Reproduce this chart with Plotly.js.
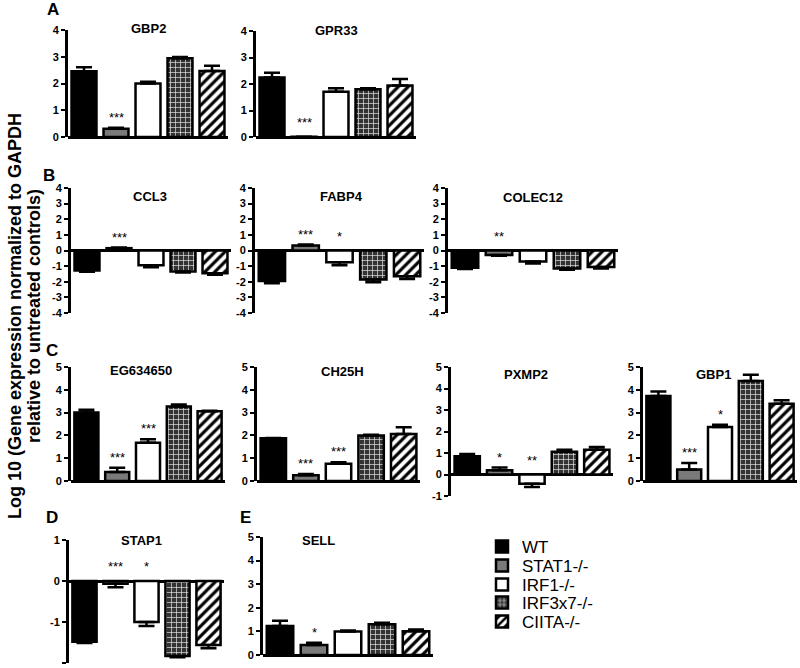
<!DOCTYPE html>
<html><head><meta charset="utf-8">
<script src="https://cdn.plot.ly/plotly-3.0.1.min.js"></script>
<style>body{margin:0;background:#fff}#chart{width:800px;height:668px}</style>
</head><body><div id="chart"></div>
<script>
const genotypes = ['WT','STAT1-/-','IRF1-/-','IRF3x7-/-','CIITA-/-'];

const GBP2 = [2.46, 0.31, 2.0, 2.94, 2.47];
const GBP2_err = [0.15, 0.04, 0.07, 0.05, 0.19];
const GBP2_sig = ['', '***', '', '', ''];

const GPR33 = [2.25, 0.01, 1.71, 1.8, 1.94];
const GPR33_err = [0.17, 0, 0.13, 0.04, 0.25];
const GPR33_sig = ['', '***', '', '', ''];

const CCL3 = [-1.28, 0.15, -0.95, -1.35, -1.45];
const CCL3_err = [0.08, 0.04, 0.12, 0.05, 0.1];
const CCL3_sig = ['', '***', '', '', ''];

const FABP4 = [-1.95, 0.32, -0.75, -1.85, -1.65];
const FABP4_err = [0.15, 0.06, 0.2, 0.18, 0.17];
const FABP4_sig = ['', '***', '*', '', ''];

const COLEC12 = [-1.1, -0.28, -0.7, -1.15, -1.05];
const COLEC12_err = [0.08, 0.06, 0.13, 0.08, 0.1];
const COLEC12_sig = ['', '**', '', '', ''];

const EG634650 = [3.0, 0.39, 1.68, 3.27, 3.06];
const EG634650_err = [0.13, 0.19, 0.15, 0.09, 0.02];
const EG634650_sig = ['', '***', '***', '', ''];

const CH25H = [1.87, 0.25, 0.76, 2.0, 2.06];
const CH25H_err = [0.02, 0.06, 0.06, 0.03, 0.3];
const CH25H_sig = ['', '***', '***', '', ''];

const PXMP2 = [0.85, 0.2, -0.43, 1.06, 1.15];
const PXMP2_err = [0.1, 0.12, 0.15, 0.09, 0.13];
const PXMP2_sig = ['', '*', '**', '', ''];

const GBP1 = [3.73, 0.5, 2.37, 4.39, 3.39];
const GBP1_err = [0.2, 0.29, 0.1, 0.27, 0.15];
const GBP1_sig = ['', '***', '*', '', ''];

const STAP1 = [-1.48, -0.07, -1.0, -1.83, -1.56];
const STAP1_err = [0.03, 0.08, 0.1, 0.03, 0.08];
const STAP1_sig = ['', '***', '*', '', ''];

const SELL = [1.23, 0.42, 1.0, 1.3, 1.01];
const SELL_err = [0.22, 0.1, 0.04, 0.07, 0.07];
const SELL_sig = ['', '*', '', '', ''];

const ticksA = [0, 1, 2, 3, 4];
const ticksB = [-4, -3, -2, -1, 0, 1, 2, 3, 4];
const ticksC = [0, 1, 2, 3, 4, 5];
const ticksPXMP2 = [-1, 0, 1, 2, 3, 4, 5];
const ticksSTAP1 = [-2, -1, 0, 1];

const W = 800, H = 668;
const FONT = 'Liberation Sans, Arial, Helvetica, sans-serif';

// layout of panels in pixels
const panels = [
  {gene:'GBP2', v:GBP2, e:GBP2_err, s:GBP2_sig, ticks:ticksA, px:[68,228], py:[30,137], t:[148,28]},
  {gene:'GPR33', v:GPR33, e:GPR33_err, s:GPR33_sig, ticks:ticksA, px:[256,416], py:[31,137], t:[336,31]},
  {gene:'CCL3', v:CCL3, e:CCL3_err, s:CCL3_sig, ticks:ticksB, px:[71,231], py:[188,313], t:[150,196]},
  {gene:'FABP4', v:FABP4, e:FABP4_err, s:FABP4_sig, ticks:ticksB, px:[255,424], py:[188,313], t:[341,197]},
  {gene:'COLEC12', v:COLEC12, e:COLEC12_err, s:COLEC12_sig, ticks:ticksB, px:[448,618], py:[188,313], t:[533,198]},
  {gene:'EG634650', v:EG634650, e:EG634650_err, s:EG634650_sig, ticks:ticksC, px:[71,225], py:[367,481], t:[141,370]},
  {gene:'CH25H', v:CH25H, e:CH25H_err, s:CH25H_sig, ticks:ticksC, px:[257,420], py:[367,481], t:[342,371]},
  {gene:'PXMP2', v:PXMP2, e:PXMP2_err, s:PXMP2_sig, ticks:ticksPXMP2, px:[451,613], py:[367,496], t:[526,374]},
  {gene:'GBP1', v:GBP1, e:GBP1_err, s:GBP1_sig, ticks:ticksC, px:[643,797], py:[367,481], t:[713,374]},
  {gene:'STAP1', v:STAP1, e:STAP1_err, s:STAP1_sig, ticks:ticksSTAP1, px:[69,224], py:[540,663], t:[141,540]},
  {gene:'SELL', v:SELL, e:SELL_err, s:SELL_sig, ticks:ticksC, px:[263,433], py:[537,655], t:[318,540]}
];

const styles = [
  {color:'#000000'},
  {color:'#7a7a7a'},
  {color:'#ffffff'},
  {color:'#3a3a3a', pattern:{shape:'+', bgcolor:'#333333', fgcolor:'#e6e6e6', size:5, solidity:0.25, fillmode:'replace'}},
  {color:'#ffffff', pattern:{shape:'/', bgcolor:'#ffffff', fgcolor:'#000000', size:7, solidity:0.45, fillmode:'replace'}}
];
const legendRows = [547, 566, 585, 603, 622];

const fx = p => p / W;
const fy = p => 1 - p / H;

const traces = [];
const layout = {
  width: W, height: H,
  margin: {l:0, r:0, t:0, b:0},
  paper_bgcolor: '#fff', plot_bgcolor: 'rgba(0,0,0,0)',
  barmode: 'overlay', bargap: 0.22,
  showlegend: true,
  font: {family: FONT, color: '#000'},
  annotations: []
};

panels.forEach((p, i) => {
  const n = i === 0 ? '' : String(i + 1);
  const xa = 'xaxis' + n, ya = 'yaxis' + n;
  const rng = [p.ticks[0], p.ticks[p.ticks.length - 1]];
  layout[xa] = {
    domain: [fx(p.px[0]), fx(p.px[1])], anchor: 'y' + n,
    type: 'category', categoryarray: genotypes, range: [-0.5, 4.5],
    showticklabels: false, ticks: '', showline: false, showgrid: false, zeroline: false, fixedrange: true
  };
  layout[ya] = {
    domain: [fy(p.py[1]), fy(p.py[0])], anchor: 'x' + n,
    range: rng, tickvals: p.ticks, ticktext: p.ticks.map(String),
    showline: true, linewidth: 3, linecolor: '#000',
    ticks: 'outside', ticklen: 4, tickwidth: 2, tickcolor: '#000',
    tickfont: {family: FONT, size: 11, weight: 'bold', color: '#000'},
    showgrid: false, zeroline: true, zerolinewidth: 3, zerolinecolor: '#000', fixedrange: true
  };
  genotypes.forEach((g, k) => {
    const val = p.v[k], err = p.e[k];
    const st = styles[k];
    const marker = {color: st.color, line: {color: '#000', width: 2.5}};
    if (st.pattern) marker.pattern = st.pattern;
    traces.push({
      type: 'bar', x: [g], y: [val], name: g,
      xaxis: 'x' + n, yaxis: 'y' + n,
      marker: marker,
      error_y: {type: 'data', symmetric: false,
        array: [val >= 0 ? err : 0], arrayminus: [val < 0 ? err : 0],
        color: '#000', thickness: 2.5, width: 8},
      showlegend: i === 0,
      legend: k === 0 ? 'legend' : 'legend' + (k + 1),
      hoverinfo: 'skip'
    });
    if (p.s[k]) {
      const top = val + (val >= 0 ? err : 0);
      layout.annotations.push({
        xref: 'x' + n, yref: 'y' + n, x: g, y: Math.max(top, 0),
        yanchor: 'bottom', yshift: top > 0.15 ? 1 : 5, showarrow: false, text: p.s[k],
        font: {family: FONT, size: 13, color: '#000'}
      });
    }
  });
  layout.annotations.push({
    xref: 'paper', yref: 'paper', x: fx(p.t[0]), y: fy(p.t[1]), xanchor: 'center', yanchor: 'middle',
    showarrow: false, text: '<b>' + p.gene + '</b>', font: {family: FONT, size: 13, color: '#000'}
  });
});

// legends
genotypes.forEach((g, k) => {
  const key = k === 0 ? 'legend' : 'legend' + (k + 1);
  layout[key] = {
    x: fx(482), xanchor: 'left', y: fy(legendRows[k]), yanchor: 'middle',
    bgcolor: 'rgba(0,0,0,0)', borderwidth: 0,
    font: {family: FONT, size: 17, color: '#000'}
  };
});

// panel letters
const letters = [['A', 53, 10], ['B', 49, 175], ['C', 52, 350], ['D', 52, 517], ['E', 245, 517]];
letters.forEach(l => layout.annotations.push({
  xref: 'paper', yref: 'paper', x: fx(l[1]), y: fy(l[2]), xanchor: 'center', yanchor: 'middle',
  showarrow: false, text: '<b>' + l[0] + '</b>', font: {family: FONT, size: 17, color: '#000'}
}));

// y title (two lines)
layout.annotations.push({
  xref: 'paper', yref: 'paper', x: fx(15), y: fy(316), xanchor: 'center', yanchor: 'middle',
  textangle: -90, showarrow: false, text: '<b>Log 10 (Gene expression normalized to GAPDH</b>',
  font: {family: FONT, size: 18, color: '#000'}
});
layout.annotations.push({
  xref: 'paper', yref: 'paper', x: fx(34), y: fy(316), xanchor: 'center', yanchor: 'middle',
  textangle: -90, showarrow: false, text: '<b>relative to untreated controls)</b>',
  font: {family: FONT, size: 18, color: '#000'}
});

Plotly.newPlot('chart', traces, layout, {displayModeBar: false, staticPlot: true});
</script>
</body></html>
